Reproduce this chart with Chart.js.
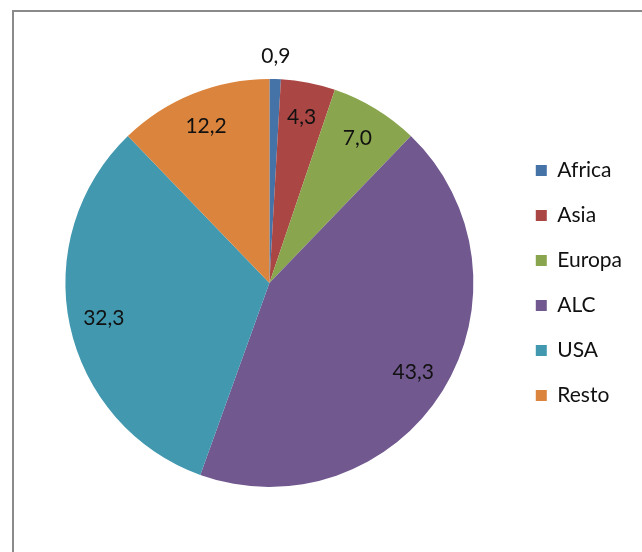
<!DOCTYPE html>
<html>
<head>
<meta charset="utf-8">
<script src="https://cdn.jsdelivr.net/npm/chart.js@4/dist/chart.umd.min.js"></script>
<style>
  html, body { margin: 0; padding: 0; background: #fff; overflow: hidden; }
  #frame { position: absolute; left: 12px; top: 10px; width: 700px; height: 600px; border: 2px solid #8a8a8a; }
  #wrap { position: absolute; left: 0; top: 0; width: 642px; height: 552px; }
</style>
</head>
<body>
<div id="frame"></div>
<div id="wrap"><canvas id="myChart" width="642" height="552"></canvas></div>
<script>
// Datos del grafico
const regiones = ['Africa', 'Asia', 'Europa', 'ALC', 'USA', 'Resto'];
const porcentajes = [0.9, 4.3, 7.0, 43.3, 32.3, 12.2];
const colores = ['#4572A7', '#AA4643', '#89A54E', '#71588F', '#4198AF', '#DB843D'];

const fuente = 'Lato, "Open Sans", sans-serif';

// Etiquetas de valor sobre cada porcion
const etiquetasPlugin = {
    id: 'etiquetas',
    afterDatasetsDraw(chart) {
        const ctx = chart.ctx;
        const meta = chart.getDatasetMeta(0);
        ctx.save();
        ctx.font = '21px ' + fuente;
        ctx.fillStyle = '#111';
        ctx.textAlign = 'center';
        ctx.textBaseline = 'middle';
        meta.data.forEach((arc, i) => {
            const p = arc.getProps(['x', 'y', 'startAngle', 'endAngle', 'outerRadius'], true);
            const mid = (p.startAngle + p.endAngle) / 2;
            // porciones muy pequenas van afuera
            const f = porcentajes[i] < 2 ? 1.11 : 0.83;
            const tx = p.x + Math.cos(mid) * p.outerRadius * f;
            const ty = p.y + Math.sin(mid) * p.outerRadius * f;
            ctx.fillText(porcentajes[i].toFixed(1).replace('.', ','), tx, ty);
        });
        ctx.restore();
    }
};

const ctx = document.getElementById('myChart').getContext('2d');
const myChart = new Chart(ctx, {
    type: 'pie',
    data: {
        labels: regiones,
        datasets: [{
            data: porcentajes,
            backgroundColor: colores,
            borderWidth: 0
        }]
    },
    options: {
        responsive: false,
        animation: false,
        layout: {
            padding: { top: 79, bottom: 65, left: 27, right: 10 }
        },
        plugins: {
            tooltip: { enabled: false },
            legend: {
                position: 'right',
                labels: {
                    boxWidth: 11,
                    boxHeight: 11,
                    padding: 24,
                    color: '#111',
                    font: { size: 21, family: fuente }
                }
            }
        }
    },
    plugins: [etiquetasPlugin]
});
</script>
</body>
</html>
